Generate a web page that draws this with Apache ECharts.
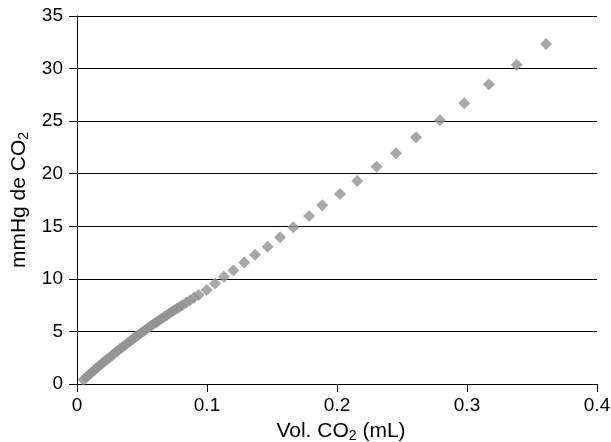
<!DOCTYPE html>
<html><head><meta charset="utf-8">
<script src="https://cdn.jsdelivr.net/npm/echarts@6/dist/echarts.min.js"></script>
<style>html,body{margin:0;padding:0;background:#fff}#c{width:611px;height:442px}</style>
</head><body><div id="c"></div>
<script>
// x: Vol. CO2 (mL), y: mmHg de CO2
const volCO2 = [0.005,0.007,0.009,0.011,0.013,0.015,0.017,0.019,0.021,0.023,0.025,0.027,0.029,0.031,0.033,0.035,0.037,0.039,0.041,0.043,0.045,0.047,0.049,0.051,0.053,0.055,0.057,0.059,0.061,0.063,0.065,0.067,0.069,0.071,0.073,0.075,0.077,0.079,0.081,0.084,0.087,0.090,0.0936,0.0997,0.1062,0.1131,0.1203,0.1287,0.1369,0.1467,0.1562,0.1664,0.1785,0.1887,0.2023,0.2156,0.2305,0.2454,0.2608,0.2792,0.2979,0.3169,0.3382,0.3608];
const mmHgCO2 = [0.4,0.62,0.85,1.07,1.29,1.5,1.72,1.93,2.13,2.33,2.53,2.73,2.93,3.13,3.32,3.51,3.7,3.89,4.08,4.27,4.46,4.64,4.82,5.0,5.18,5.35,5.53,5.7,5.87,6.04,6.21,6.38,6.55,6.71,6.87,7.03,7.19,7.35,7.5,7.74,7.97,8.2,8.47,8.94,9.55,10.2,10.8,11.55,12.3,13.06,13.95,14.9,15.98,17.0,18.07,19.31,20.67,21.94,23.46,25.08,26.70,28.50,30.37,32.34];
const xTicks = [0, 0.1, 0.2, 0.3, 0.4];
const yTicks = [0, 5, 10, 15, 20, 25, 30, 35];

const data = volCO2.map((v, i) => [v, mmHgCO2[i]]);
const font = 'Liberation Sans, Arial, Helvetica, sans-serif';
const chart = echarts.init(document.getElementById('c'), null, {renderer: 'canvas'});
chart.setOption({
  animation: false,
  backgroundColor: '#fff',
  grid: {left: 77, right: 14, top: 16, bottom: 58, containLabel: false, outerBoundsMode: 'none'},
  xAxis: {
    type: 'value', min: xTicks[0], max: xTicks[xTicks.length - 1], interval: 0.1,
    name: 'Vol. CO{sub|2} (mL)', nameLocation: 'middle', nameGap: 35,
    nameTextStyle: {color: '#000', fontSize: 21, fontFamily: font, padding: [0, 0, 0, 8],
      rich: {sub: {fontSize: 14, fontFamily: font, color: '#000', padding: [10, 0, 0, 0]}}},
    axisLine: {show: true, lineStyle: {color: '#000', width: 1}},
    axisTick: {show: true, inside: false, length: 8, lineStyle: {color: '#000'}},
    axisLabel: {color: '#000', fontSize: 19, fontFamily: font, margin: 12,
      formatter: v => (v === 0 ? '0' : String(Math.round(v * 10) / 10))},
    splitLine: {show: false}
  },
  yAxis: {
    type: 'value', min: yTicks[0], max: yTicks[yTicks.length - 1], interval: 5,
    name: 'mmHg de CO{sub|2}', nameLocation: 'middle', nameGap: 46, nameRotate: 90,
    nameTextStyle: {color: '#000', fontSize: 21, fontFamily: font,
      rich: {sub: {fontSize: 14, fontFamily: font, color: '#000', padding: [10, 0, 0, 0]}}},
    axisLine: {show: true, lineStyle: {color: '#000', width: 1}},
    axisTick: {show: true, inside: false, length: 8, lineStyle: {color: '#000'}},
    axisLabel: {color: '#000', fontSize: 19, fontFamily: font, margin: 14},
    splitLine: {show: true, lineStyle: {color: '#000', width: 1}}
  },
  series: [{
    type: 'scatter', data: data, symbol: 'diamond', symbolSize: 12,
    itemStyle: {color: '#929295'}
  }]
});
</script></body></html>
